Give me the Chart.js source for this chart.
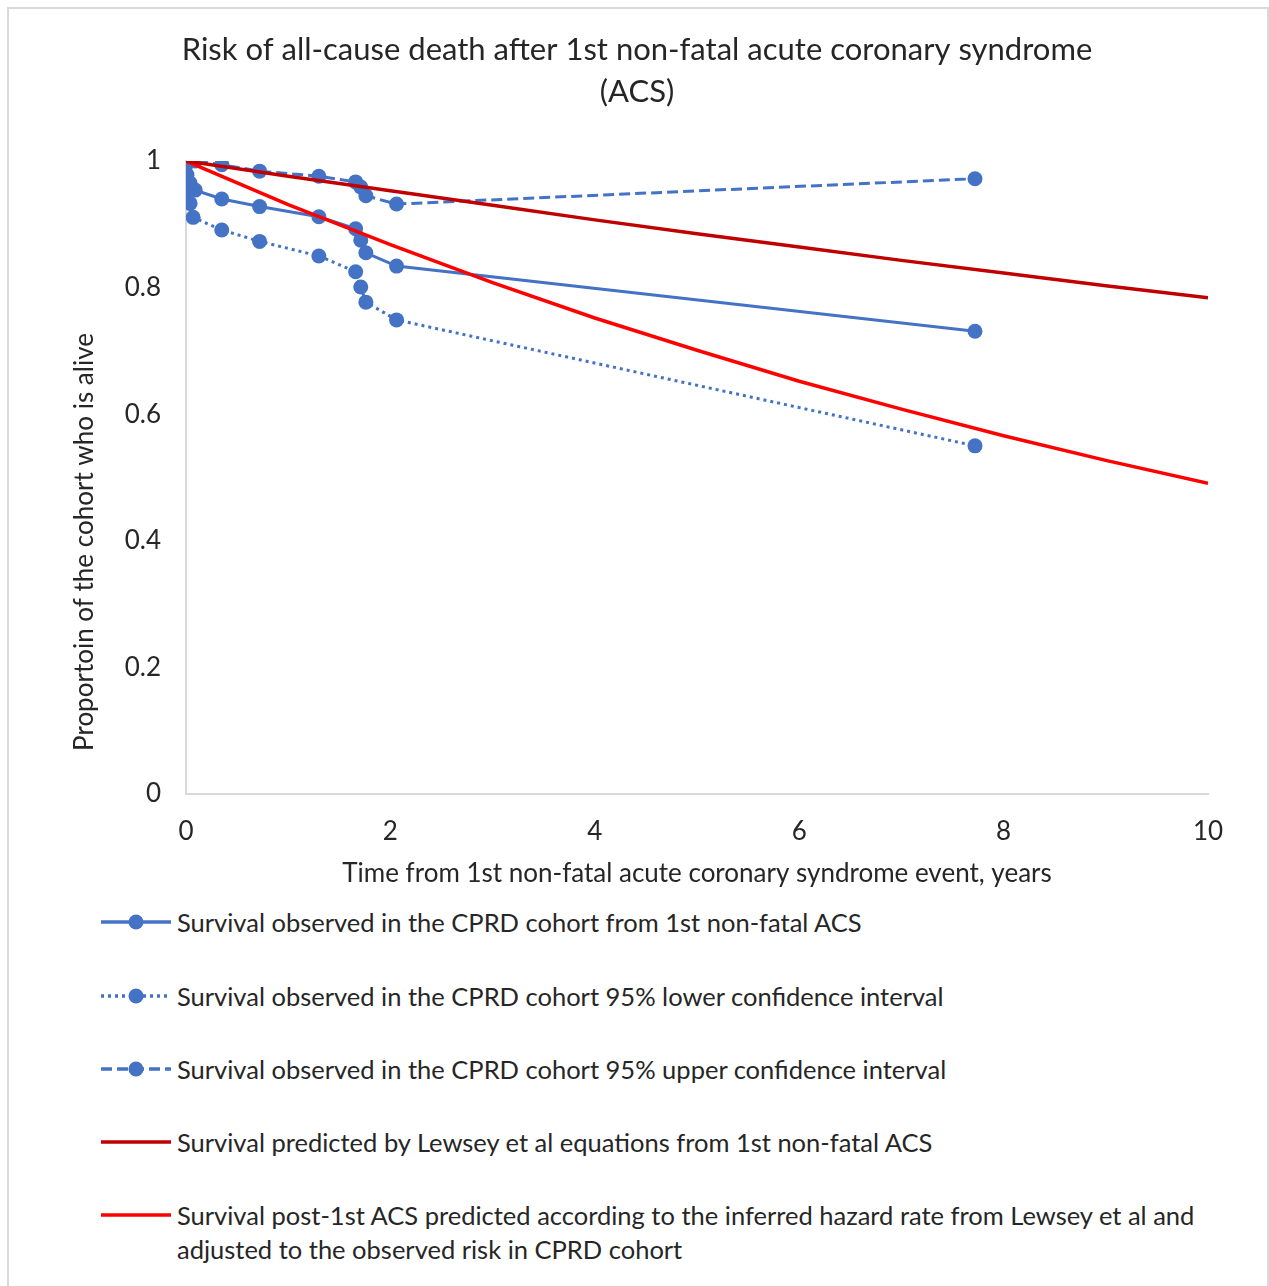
<!DOCTYPE html>
<html>
<head>
<meta charset="utf-8">
<script src="https://cdn.jsdelivr.net/npm/chart.js@4/dist/chart.umd.min.js"></script>
<style>
    html, body { margin: 0; padding: 0; background: #fff; }
    #frame {
        position: absolute; left: 7px; top: 7px; width: 1262px; height: 1290px;
        border: 2px solid #d9d9d9; box-sizing: border-box;
    }
    #myChart { position: absolute; left: 0; top: 0; }
    .legend-row {
        position: absolute; left: 101px; width: 1130px;
        font-family: Lato, sans-serif; font-size: 25.5px; color: #262626;
        line-height: 34px;
    }
    .legend-row svg { position: absolute; left: 0; top: 2px; }
    .legend-row span { position: absolute; left: 76px; width: 1050px; }
</style>
</head>
<body>
<div id="frame"></div>
<canvas id="myChart" width="1269" height="900"></canvas>
<div id="legend"></div>
<script>
// 観測された生存率（CPRD コホート）
const obsTime = [0, 0.04, 0.09, 0.35, 0.72, 1.3, 1.66, 1.71, 1.76, 2.06, 7.72];
const obsSurvival = [1, 0.965, 0.954, 0.940, 0.928, 0.912, 0.893, 0.875, 0.855, 0.834, 0.731];

// 95% 信頼区間 下限
const lowerTime = [0, 0.01, 0.04, 0.07, 0.35, 0.72, 1.3, 1.66, 1.71, 1.76, 2.06, 7.72];
const lowerSurvival = [1, 0.949, 0.933, 0.911, 0.891, 0.873, 0.850, 0.825, 0.801, 0.777, 0.749, 0.550];

// 95% 信頼区間 上限
const upperTime = [0, 0.01, 0.09, 0.35, 0.72, 1.3, 1.66, 1.71, 1.76, 2.06, 7.72];
const upperSurvival = [1, 0.978, 1.0, 0.994, 0.984, 0.976, 0.967, 0.959, 0.945, 0.932, 0.972];

// Lewsey et al による予測
const predTime = [0, 1, 2, 3, 4, 5, 6, 7, 8, 9, 10];
const lewseySurvival = [1, 0.976, 0.953, 0.930, 0.907, 0.885, 0.864, 0.843, 0.823, 0.803, 0.784];
const adjustedSurvival = [1, 0.931, 0.868, 0.808, 0.752, 0.701, 0.652, 0.608, 0.566, 0.527, 0.491];

const xTicks = [0, 2, 4, 6, 8, 10];
const yTicks = [0, 0.2, 0.4, 0.6, 0.8, 1];

const seriesLabels = [
    "Survival observed in the CPRD cohort from 1st non-fatal ACS",
    "Survival observed in the CPRD cohort 95% lower confidence interval",
    "Survival observed in the CPRD cohort 95% upper confidence interval",
    "Survival predicted by Lewsey et al equations from 1st non-fatal ACS",
    "Survival post-1st ACS predicted according to the inferred hazard rate from Lewsey et al and adjusted to the observed risk in CPRD cohort"
];

const BLUE = "#4472C4";
const DARK_RED = "#C00000";
const RED = "#FF0000";
const TEXT = "#262626";
const FONT = "Lato, sans-serif";

/**
 * x 配列と y 配列から {x, y} の配列を作る
 */
function toPoints(xs, ys) {
    return xs.map((x, i) => ({ x: x, y: ys[i] }));
}

function blueSeries(label, xs, ys, dash) {
    return {
        label: label,
        data: toPoints(xs, ys),
        showLine: true,
        borderColor: BLUE,
        backgroundColor: BLUE,
        borderWidth: 3,
        borderDash: dash,
        pointRadius: 7.5,
        pointBorderWidth: 0,
        pointHoverRadius: 7.5,
        order: 1
    };
}

function redSeries(label, ys, color) {
    return {
        label: label,
        data: toPoints(predTime, ys),
        showLine: true,
        borderColor: color,
        backgroundColor: color,
        borderWidth: 3.5,
        pointRadius: 0,
        order: 0
    };
}

// 縦軸タイトル（プロット中央から少し下にずらして描く）
const yTitlePlugin = {
    id: 'yTitle',
    afterDraw(chart) {
        const c = chart.ctx;
        const area = chart.chartArea;
        c.save();
        c.translate(area.left - 101, area.bottom - 252);
        c.rotate(-Math.PI / 2);
        c.font = "26px " + FONT;
        c.fillStyle = TEXT;
        c.textAlign = 'center';
        c.textBaseline = 'middle';
        c.fillText("Proportoin of the cohort who is alive", 0, 0);
        c.restore();
    }
};

var ctx = document.getElementById("myChart");
var myChart = new Chart(ctx, {
    type: 'scatter',
    data: {
        datasets: [
            blueSeries(seriesLabels[0], obsTime, obsSurvival, []),
            blueSeries(seriesLabels[1], lowerTime, lowerSurvival, [3, 4]),
            blueSeries(seriesLabels[2], upperTime, upperSurvival, [11, 5]),
            redSeries(seriesLabels[3], lewseySurvival, DARK_RED),
            redSeries(seriesLabels[4], adjustedSurvival, RED)
        ]
    },
    plugins: [yTitlePlugin],
    options: {
        responsive: false,
        animation: false,
        layout: { padding: { left: 5, right: 0, top: 0, bottom: 0 } },
        plugins: {
            legend: { display: false },
            tooltip: { enabled: false },
            title: {
                display: true,
                text: ["Risk of all-cause death after 1st non-fatal acute coronary syndrome", "(ACS)"],
                color: TEXT,
                font: { family: FONT, size: 31, weight: 'normal', lineHeight: 42 / 31 },
                padding: { top: 29, bottom: 48 }
            }
        },
        scales: {
            x: {
                type: 'linear',
                min: 0,
                max: 10,
                afterBuildTicks: s => { s.ticks = xTicks.map(v => ({ value: v })); },
                afterFit: s => { s.height = 106; },
                grid: { display: false, drawTicks: false },
                border: { display: true, color: "#d9d9d9", width: 2 },
                ticks: { color: TEXT, padding: 22, font: { family: FONT, size: 26 } },
                title: {
                    display: true,
                    text: "Time from 1st non-fatal acute coronary syndrome event, years",
                    color: TEXT,
                    font: { family: FONT, size: 26 },
                    padding: { top: 0, bottom: 11 }
                }
            },
            y: {
                type: 'linear',
                min: 0,
                max: 1,
                afterBuildTicks: s => { s.ticks = yTicks.map(v => ({ value: v })); },
                afterFit: s => { s.width = 181; },
                grid: { display: false, drawTicks: false },
                border: { display: true, color: "#d9d9d9", width: 2 },
                ticks: {
                    color: TEXT,
                    padding: 25,
                    font: { family: FONT, size: 26 },
                    callback: v => String(v)
                }
            },
            // 右側の余白用（何も描かない）
            yRight: {
                type: 'linear',
                position: 'right',
                min: 0,
                max: 1,
                afterFit: s => { s.width = 61; },
                grid: { display: false, drawTicks: false },
                border: { display: false },
                ticks: { display: false }
            }
        }
    }
});

// 凡例（HTML で作る）
const legendRows = [
    { top: 905, color: BLUE, dash: "", marker: true },
    { top: 979, color: BLUE, dash: "3 4", marker: true },
    { top: 1052, color: BLUE, dash: "11 5", marker: true },
    { top: 1125, color: DARK_RED, dash: "", marker: false },
    { top: 1198, color: RED, dash: "", marker: false }
];

const legend = document.getElementById("legend");
legendRows.forEach((row, i) => {
    const div = document.createElement("div");
    div.className = "legend-row";
    div.style.top = row.top + "px";
    let svg = '<svg width="72" height="30">' +
        '<line x1="0" y1="15" x2="70" y2="15" stroke="' + row.color + '" stroke-width="3.5"' +
        (row.dash ? ' stroke-dasharray="' + row.dash + '"' : '') + '/>';
    if (row.marker) {
        svg += '<circle cx="35" cy="15" r="7.5" fill="' + row.color + '"/>';
    }
    svg += '</svg>';
    div.innerHTML = svg + '<span>' + seriesLabels[i] + '</span>';
    legend.appendChild(div);
});
</script>
</body>
</html>
